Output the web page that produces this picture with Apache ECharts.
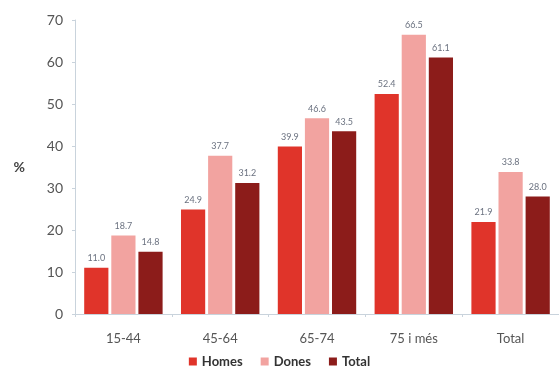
<!DOCTYPE html>
<html>
<head>
<meta charset="utf-8">
<script src="https://cdn.jsdelivr.net/npm/echarts@6/dist/echarts.min.js"></script>
<style>
  html, body { margin: 0; padding: 0; background: #fff; }
  #chart { width: 559px; height: 376px; }
</style>
</head>
<body>
<div id="chart"></div>
<script>
// Age groups and percentages by sex
const categories = ['15-44', '45-64', '65-74', '75 i més', 'Total'];
const homes = [11.0, 24.9, 39.9, 52.4, 21.9];
const dones = [18.7, 37.7, 46.6, 66.5, 33.8];
const total = [14.8, 31.2, 43.5, 61.1, 28.0];
const yTicks = [0, 10, 20, 30, 40, 50, 60, 70];

const FONT = 'Lato, "Open Sans", sans-serif';
const chart = echarts.init(document.getElementById('chart'));

function barSeries(name, data, color) {
  return {
    name: name,
    type: 'bar',
    data: data,
    barGap: '12%',
    barCategoryGap: '19%',
    itemStyle: { color: color },
    label: {
      show: true,
      position: 'top',
      distance: 5,
      color: '#6b7280',
      fontSize: 9,
      fontFamily: FONT,
      formatter: p => p.value.toFixed(1)
    }
  };
}

chart.setOption({
  animation: false,
  textStyle: { fontFamily: FONT },
  grid: { left: 75, right: 0, top: 20, bottom: 62, containLabel: false },
  xAxis: {
    type: 'category',
    data: categories,
    axisLine: { lineStyle: { color: '#c9d3dc', width: 1 } },
    axisTick: { show: true, length: 3, lineStyle: { color: '#c9d3dc' } },
    axisLabel: { color: '#555', fontSize: 13, margin: 18, fontFamily: FONT }
  },
  yAxis: {
    type: 'value',
    min: yTicks[0],
    max: yTicks[yTicks.length - 1],
    interval: 10,
    name: '%',
    nameLocation: 'middle',
    nameRotate: 0,
    nameGap: 50,
    nameTextStyle: { color: '#444', fontSize: 14, fontWeight: 'bold', fontFamily: FONT, padding: [0, 0, 22, 0] },
    axisLine: { show: true, lineStyle: { color: '#c9d3dc', width: 1 } },
    axisTick: { show: true, length: 3, lineStyle: { color: '#c9d3dc' } },
    splitLine: { show: false },
    axisLabel: { color: '#555', fontSize: 14, margin: 12, fontFamily: FONT }
  },
  legend: {
    bottom: 3,
    left: 'center',
    itemWidth: 8,
    itemHeight: 8,
    itemGap: 18,
    icon: 'rect',
    textStyle: { color: '#333', fontSize: 13, fontWeight: 'bold', fontFamily: FONT },
    data: ['Homes', 'Dones', 'Total']
  },
  series: [
    barSeries('Homes', homes, '#e0342a'),
    barSeries('Dones', dones, '#f2a3a0'),
    barSeries('Total', total, '#8c1c1a')
  ]
});
</script>
</body>
</html>
